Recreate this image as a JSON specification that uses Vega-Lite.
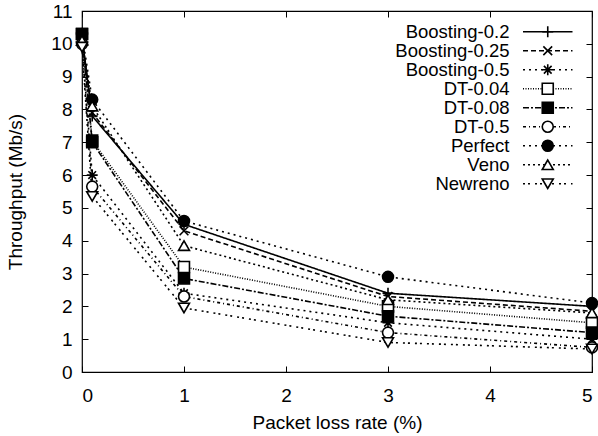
{
  "$schema": "https://vega.github.io/schema/vega-lite/v6.json",
  "width": 510,
  "height": 361,
  "autosize": "none",
  "padding": {"left": 82, "top": 11, "right": 6, "bottom": 64},
  "background": "white",
  "config": {
    "font": "Liberation Sans",
    "view": {"stroke": "black", "strokeWidth": 1.2},
    "axis": {
      "grid": false,
      "domain": false,
      "tickColor": "black",
      "tickSize": -6,
      "tickWidth": 1,
      "labelColor": "black",
      "labelFontSize": 19,
      "labelFont": "Liberation Sans",
      "titleFont": "Liberation Sans",
      "titleFontSize": 19,
      "titleFontWeight": "normal",
      "titleColor": "black"
    },
    "legend": {
      "labelFont": "Liberation Sans",
      "labelFontSize": 18.5,
      "padding": 0
    }
  },
  "data": {
    "values": [
      {"series": "Boosting-0.2", "x": 0, "y": 10.2},
      {"series": "Boosting-0.2", "x": 0.1, "y": 7.8},
      {"series": "Boosting-0.2", "x": 1, "y": 4.5},
      {"series": "Boosting-0.2", "x": 3, "y": 2.4},
      {"series": "Boosting-0.2", "x": 5, "y": 2.0},
      {"series": "Boosting-0.25", "x": 0, "y": 10.1},
      {"series": "Boosting-0.25", "x": 0.1, "y": 7.9},
      {"series": "Boosting-0.25", "x": 1, "y": 4.3},
      {"series": "Boosting-0.25", "x": 3, "y": 2.3},
      {"series": "Boosting-0.25", "x": 5, "y": 1.85},
      {"series": "Boosting-0.5", "x": 0, "y": 10.0},
      {"series": "Boosting-0.5", "x": 0.1, "y": 6.0},
      {"series": "Boosting-0.5", "x": 1, "y": 2.4},
      {"series": "Boosting-0.5", "x": 3, "y": 1.5},
      {"series": "Boosting-0.5", "x": 5, "y": 1.0},
      {"series": "DT-0.04", "x": 0, "y": 10.3},
      {"series": "DT-0.04", "x": 0.1, "y": 7.05},
      {"series": "DT-0.04", "x": 1, "y": 3.2},
      {"series": "DT-0.04", "x": 3, "y": 2.0},
      {"series": "DT-0.04", "x": 5, "y": 1.5},
      {"series": "DT-0.08", "x": 0, "y": 10.3},
      {"series": "DT-0.08", "x": 0.1, "y": 7.0},
      {"series": "DT-0.08", "x": 1, "y": 2.85},
      {"series": "DT-0.08", "x": 3, "y": 1.7},
      {"series": "DT-0.08", "x": 5, "y": 1.2},
      {"series": "DT-0.5", "x": 0, "y": 10.0},
      {"series": "DT-0.5", "x": 0.1, "y": 5.65},
      {"series": "DT-0.5", "x": 1, "y": 2.3},
      {"series": "DT-0.5", "x": 3, "y": 1.2},
      {"series": "DT-0.5", "x": 5, "y": 0.75},
      {"series": "Perfect", "x": 0, "y": 10.3},
      {"series": "Perfect", "x": 0.1, "y": 8.3},
      {"series": "Perfect", "x": 1, "y": 4.6},
      {"series": "Perfect", "x": 3, "y": 2.9},
      {"series": "Perfect", "x": 5, "y": 2.1},
      {"series": "Veno", "x": 0, "y": 10.1},
      {"series": "Veno", "x": 0.1, "y": 8.1},
      {"series": "Veno", "x": 1, "y": 3.85},
      {"series": "Veno", "x": 3, "y": 2.2},
      {"series": "Veno", "x": 5, "y": 1.8},
      {"series": "Newreno", "x": 0, "y": 9.9},
      {"series": "Newreno", "x": 0.1, "y": 5.35},
      {"series": "Newreno", "x": 1, "y": 1.95},
      {"series": "Newreno", "x": 3, "y": 0.9},
      {"series": "Newreno", "x": 5, "y": 0.7}
    ]
  },
  "layer": [
    {
      "mark": {"type": "line", "strokeWidth": 1.6, "color": "black", "clip": false},
      "encoding": {
        "x": {
          "field": "x", "type": "quantitative",
          "scale": {"domain": [0, 5], "nice": false, "zero": false},
          "axis": {"orient": "bottom", "values": [0, 1, 2, 3, 4, 5], "title": "Packet loss rate (%)", "labelPadding": 20, "titleY": 50, "titleBaseline": "middle"}
        },
        "y": {
          "field": "y", "type": "quantitative",
          "scale": {"domain": [0, 11], "nice": false, "zero": false},
          "axis": {"orient": "left", "values": [0, 1, 2, 3, 4, 5, 6, 7, 8, 9, 10, 11], "title": "Throughput (Mb/s)", "labelPadding": 16, "titleX": -67, "titleBaseline": "middle"}
        },
        "strokeDash": {
          "field": "series", "type": "nominal",
          "sort": ["Boosting-0.2", "Boosting-0.25", "Boosting-0.5", "DT-0.04", "DT-0.08", "DT-0.5", "Perfect", "Veno", "Newreno"],
          "scale": {"range": [[1, 0], [5, 3], [2, 4], [1, 1.5], [6, 2, 2, 2], [3, 3, 1, 3], [2, 4], [2, 3], [2, 3, 2, 5]]},
          "legend": {
            "title": null, "orient": "none", "direction": "vertical",
            "legendX": 456.5, "legendY": 11.5, "rowPadding": 0,
            "symbolType": "M-4.5,0H4.5",
            "symbolSize": 121, "symbolStrokeWidth": 1.6, "symbolStrokeColor": "black",
            "labelAlign": "right", "labelBaseline": "middle", "labelOffset": -47.5, "labelColor": "black"
          }
        }
      }
    },
    {
      "mark": {"type": "point", "size": 120, "strokeWidth": 1.6, "opacity": 1, "clip": false},
      "encoding": {
        "x": {
          "field": "x", "type": "quantitative",
          "scale": {"domain": [0, 5], "nice": false, "zero": false},
          "axis": {"orient": "top", "values": [0, 1, 2, 3, 4, 5], "labels": false, "title": null}
        },
        "y": {
          "field": "y", "type": "quantitative",
          "scale": {"domain": [0, 11], "nice": false, "zero": false},
          "axis": {"orient": "right", "values": [0, 1, 2, 3, 4, 5, 6, 7, 8, 9, 10, 11], "labels": false, "title": null}
        },
        "shape": {
          "field": "series", "type": "nominal",
          "scale": {
            "domain": ["Boosting-0.2", "Boosting-0.25", "Boosting-0.5", "DT-0.04", "DT-0.08", "DT-0.5", "Perfect", "Veno", "Newreno"],
            "range": ["M-1,0H1M0,-1V1", "M-0.8,-0.8L0.8,0.8M-0.8,0.8L0.8,-0.8", "M-1,0H1M0,-1V1M-0.7,-0.7L0.7,0.7M-0.7,0.7L0.7,-0.7", "square", "square", "circle", "circle", "triangle-up", "triangle-down"]
          },
          "legend": {
            "title": null, "orient": "none", "direction": "vertical",
            "legendX": 456.5, "legendY": 11.5, "rowPadding": 0,
            "symbolSize": 121, "symbolStrokeWidth": 1.6,
            "labelColor": "transparent", "labelBaseline": "middle", "labelExpr": "'.'"
          }
        },
        "fill": {
          "field": "series", "type": "nominal",
          "scale": {
            "domain": ["Boosting-0.2", "Boosting-0.25", "Boosting-0.5", "DT-0.04", "DT-0.08", "DT-0.5", "Perfect", "Veno", "Newreno"],
            "range": ["transparent", "transparent", "transparent", "white", "black", "white", "black", "white", "white"]
          },
          "legend": {
            "title": null, "orient": "none", "direction": "vertical",
            "legendX": 456.5, "legendY": 11.5, "rowPadding": 0,
            "symbolSize": 121, "symbolStrokeWidth": 1.6,
            "labelColor": "transparent", "labelBaseline": "middle", "labelExpr": "'.'"
          }
        },
        "stroke": {
          "field": "series", "type": "nominal",
          "scale": {
            "domain": ["Boosting-0.2", "Boosting-0.25", "Boosting-0.5", "DT-0.04", "DT-0.08", "DT-0.5", "Perfect", "Veno", "Newreno"],
            "range": ["black", "black", "black", "black", "black", "black", "black", "black", "black"]
          },
          "legend": {
            "title": null, "orient": "none", "direction": "vertical",
            "legendX": 456.5, "legendY": 11.5, "rowPadding": 0,
            "symbolSize": 121, "symbolStrokeWidth": 1.6,
            "labelColor": "transparent", "labelBaseline": "middle", "labelExpr": "'.'"
          }
        }
      }
    }
  ]
}
